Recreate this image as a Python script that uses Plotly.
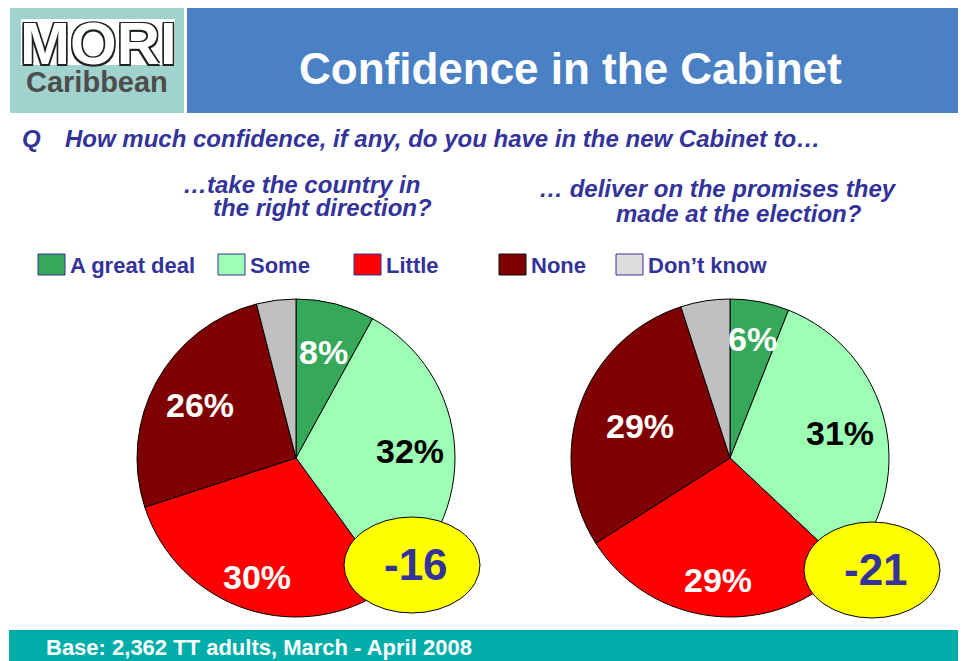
import math
import plotly.graph_objects as go

# ---- data ----
categories = ["A great deal", "Some", "Little", "None", "Don\u2019t know"]
left_values = [8, 32, 30, 26, 4]
right_values = [6, 31, 29, 29, 5]
left_title = ["\u2026take the country in", "the right direction?"]
right_title = ["\u2026 deliver on the promises they", "made at the election?"]
question = "How much confidence, if any, do you have in the new Cabinet to\u2026"
title = "Confidence in the Cabinet"
footer = "Base: 2,362 TT adults, March - April 2008"

# ---- style ----
OFF = 8            # page body margin
W, H = 966 - OFF, 661 - OFF
FONT = "Liberation Sans, Arial, sans-serif"
NAVY = "#333399"
slice_colors = ["#36A85A", "#9CFFB4", "#FF0000", "#7F0000", "#C0C0C0"]
legend_colors = ["#36A85A", "#9CFFB4", "#FF0000", "#7F0000", "#DDDDDD"]
label_colors = ["white", "black", "white", "white", None]


def px(x):
    return (x - OFF) / W


def py(y):
    return 1 - (y - OFF) / H


fig = go.Figure()
shapes = []
annotations = []

pies = [
    dict(values=left_values, cx=296, cy=458, r=159, frac=[0.69, 0.72, 0.79, 0.69],
         ell=(344, 517, 480, 613)),
    dict(values=right_values, cx=730, cy=458, r=159, frac=[0.76, 0.71, 0.77, 0.60],
         ell=(804, 522, 940, 618)),
]

for p in pies:
    cx, cy, r = p["cx"], p["cy"], p["r"]
    fig.add_trace(go.Pie(
        labels=categories, values=p["values"], sort=False, direction="clockwise",
        rotation=0, marker=dict(colors=slice_colors, line=dict(color="black", width=1)),
        textinfo="none", hoverinfo="label+percent", showlegend=False,
        domain=dict(x=[px(cx - r), px(cx + r)], y=[py(cy + r), py(cy - r)]),
    ))
    total = sum(p["values"])
    cum = 0
    for i, v in enumerate(p["values"]):
        mid = (cum + v / 2) / total * 2 * math.pi
        cum += v
        if label_colors[i] is None:
            continue
        rr = p["frac"][i] * r
        lx = cx + rr * math.sin(mid)
        ly = cy - rr * math.cos(mid)
        annotations.append(dict(
            x=px(lx), y=py(ly), xref="paper", yref="paper", showarrow=False,
            text=f"{v}%", xanchor="center", yanchor="middle",
            font=dict(family=FONT, size=34, color=label_colors[i], weight="bold")))
    # net score ellipse
    x0, y0, x1, y1 = p["ell"]
    shapes.append(dict(type="circle", xref="paper", yref="paper",
                       x0=px(x0), x1=px(x1), y0=py(y1), y1=py(y0),
                       fillcolor="#FFFF00", line=dict(color="black", width=1)))
    v = p["values"]
    net = (v[0] + v[1]) - (v[2] + v[3])
    annotations.append(dict(
        x=px((x0 + x1) / 2 + 4), y=py((y0 + y1) / 2 - 1), xref="paper", yref="paper",
        showarrow=False, text=f"{net}", xanchor="center", yanchor="middle",
        font=dict(family=FONT, size=44, color=NAVY, weight="bold")))

# header
shapes.append(dict(type="rect", xref="paper", yref="paper", x0=px(10), x1=px(184),
                   y0=py(113), y1=py(5), fillcolor="#A0D2CE", line=dict(width=0), layer="below"))
shapes.append(dict(type="rect", xref="paper", yref="paper", x0=px(21), x1=px(175),
                   y0=py(65), y1=py(19), fillcolor="white", line=dict(width=0), layer="below"))
shapes.append(dict(type="rect", xref="paper", yref="paper", x0=px(187), x1=px(962),
                   y0=py(113), y1=py(5), fillcolor="#4A80C4", line=dict(width=0), layer="below"))
# footer
shapes.append(dict(type="rect", xref="paper", yref="paper", x0=px(9), x1=px(961),
                   y0=py(661), y1=py(630), fillcolor="#00ADA9", line=dict(width=0), layer="below"))

annotations.append(dict(x=px(98), y=py(43), xref="paper", yref="paper", showarrow=False,
                        text="MORI", xanchor="center", yanchor="middle",
                        font=dict(family=FONT, size=60, color="white", weight="bold",
                                  shadow="1.5px 1.5px 0 #222, -1.5px -1.5px 0 #222, 1.5px -1.5px 0 #222, -1.5px 1.5px 0 #222")))
annotations.append(dict(x=px(97), y=py(82), xref="paper", yref="paper", showarrow=False,
                        text="Caribbean", xanchor="center", yanchor="middle",
                        font=dict(family=FONT, size=29, color="#4D4D4D", weight="bold")))
annotations.append(dict(x=px(570), y=py(68), xref="paper", yref="paper", showarrow=False,
                        text=title, xanchor="center", yanchor="middle",
                        font=dict(family=FONT, size=44, color="white", weight="bold")))

# question
qfont = dict(family=FONT, size=24, color=NAVY, weight="bold", style="italic")
annotations.append(dict(x=px(20), y=py(138), xref="paper", yref="paper", showarrow=False,
                        text="Q", xanchor="left", yanchor="middle", font=qfont))
annotations.append(dict(x=px(63), y=py(138), xref="paper", yref="paper", showarrow=False,
                        text=question, xanchor="left", yanchor="middle", font=qfont))

sfont = dict(family=FONT, size=24, color=NAVY, weight="bold", style="italic")
for txt, x, y in [(left_title[0], 181, 184), (left_title[1], 211, 208),
                  (right_title[0], 537, 189), (right_title[1], 614, 213)]:
    annotations.append(dict(x=px(x), y=py(y), xref="paper", yref="paper", showarrow=False,
                            text=txt, xanchor="left", yanchor="middle", font=sfont))

# legend
legend_x = [38, 218, 354, 499, 616]
lfont = dict(family=FONT, size=22, color=NAVY, weight="bold")
for i, cat in enumerate(categories):
    x0 = legend_x[i]
    shapes.append(dict(type="rect", xref="paper", yref="paper", x0=px(x0), x1=px(x0 + 27),
                       y0=py(275), y1=py(254), fillcolor=legend_colors[i],
                       line=dict(color="#111111" if i == 3 else NAVY, width=1)))
    annotations.append(dict(x=px(x0 + 30), y=py(265), xref="paper", yref="paper",
                            showarrow=False, text=cat, xanchor="left", yanchor="middle",
                            font=lfont))

annotations.append(dict(x=px(44), y=py(647), xref="paper", yref="paper", showarrow=False,
                        text=footer, xanchor="left", yanchor="middle",
                        font=dict(family=FONT, size=22, color="white", weight="bold")))

fig.update_layout(
    width=W, height=H, margin=dict(l=0, r=0, t=0, b=0),
    paper_bgcolor="white", plot_bgcolor="white",
    shapes=shapes, annotations=annotations, showlegend=False,
)

fig.write_html("out.html")
